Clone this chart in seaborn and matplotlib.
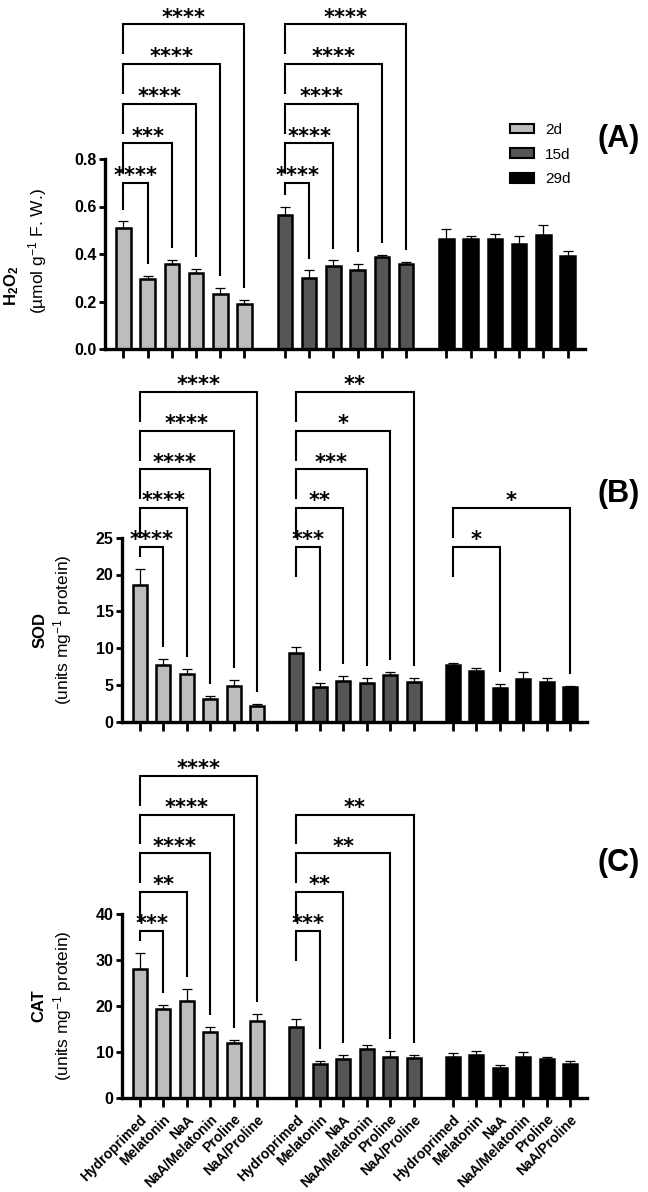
import numpy as np
import pandas as pd
import matplotlib
matplotlib.use("Agg")
import matplotlib.pyplot as plt
import seaborn as sns
from matplotlib.patches import Patch

sns.set_style("ticks", {"axes.edgecolor": "black", "xtick.color": "black",
                        "ytick.color": "black", "text.color": "black"})
plt.rcParams['font.family'] = ['Liberation Sans', 'DejaVu Sans']
plt.rcParams['mathtext.fontset'] = 'custom'
plt.rcParams['mathtext.rm'] = 'Liberation Sans'
plt.rcParams['mathtext.bf'] = 'Liberation Sans:bold'
plt.rcParams['mathtext.it'] = 'Liberation Sans:italic'

treatments = ['Hydroprimed', 'Melatonin', 'NaA', 'NaA/Melatonin', 'Proline', 'NaA/Proline']
days = ['2d', '15d', '29d']
day_colors = ['#bdbdbd', '#555555', '#000000']

# means and top of the error bar (mean + SD), one row per day
h2o2_mean = [[0.509, 0.295, 0.358, 0.320, 0.233, 0.190],
             [0.563, 0.299, 0.348, 0.334, 0.386, 0.358],
             [0.465, 0.465, 0.465, 0.443, 0.480, 0.390]]
h2o2_top = [[0.537, 0.306, 0.376, 0.337, 0.257, 0.205],
            [0.600, 0.331, 0.373, 0.358, 0.397, 0.365],
            [0.505, 0.477, 0.484, 0.474, 0.524, 0.414]]
sod_mean = [[18.6, 7.7, 6.45, 3.1, 4.9, 2.15],
            [9.4, 4.7, 5.5, 5.2, 6.3, 5.4],
            [7.7, 6.9, 4.55, 5.85, 5.4, 4.7]]
sod_top = [[20.8, 8.5, 7.2, 3.55, 5.7, 2.4],
           [10.2, 5.2, 6.2, 5.9, 6.7, 5.9],
           [7.95, 7.3, 5.1, 6.7, 5.9, 4.9]]
cat_mean = [[28.0, 19.3, 21.1, 14.35, 12.0, 16.7],
            [15.4, 7.25, 8.5, 10.6, 8.85, 8.7],
            [8.9, 9.3, 6.4, 8.8, 8.4, 7.3]]
cat_top = [[31.5, 20.2, 23.8, 15.4, 12.6, 18.2],
           [17.1, 8.1, 9.4, 11.5, 10.1, 9.3],
           [9.8, 10.1, 7.1, 10.0, 8.95, 8.1]]

# comparisons vs Hydroprimed: (day, treatment, stars), stacked bottom-up per day
h2o2_sig = [(0, 1, '****'), (0, 2, '***'), (0, 3, '****'), (0, 4, '****'), (0, 5, '****'),
            (1, 1, '****'), (1, 2, '****'), (1, 3, '****'), (1, 4, '****'), (1, 5, '****')]
sod_sig = [(0, 1, '****'), (0, 2, '****'), (0, 3, '****'), (0, 4, '****'), (0, 5, '****'),
           (1, 1, '***'), (1, 2, '**'), (1, 3, '***'), (1, 4, '*'), (1, 5, '**'),
           (2, 2, '*'), (2, 5, '*')]
cat_sig = [(0, 1, '***'), (0, 2, '**'), (0, 3, '****'), (0, 4, '****'), (0, 5, '****'),
           (1, 1, '***'), (1, 2, '**'), (1, 4, '**'), (1, 5, '**')]

GROUP_STEP = 6.67


def xpos(g, i):
    return g * GROUP_STEP + i


def make_df(mean, top):
    rows = []
    for g, d in enumerate(days):
        for i, t in enumerate(treatments):
            rows.append({'pos': xpos(g, i), 'day': d, 'treat': t,
                         'mean': mean[g][i], 'top': top[g][i]})
    return pd.DataFrame(rows)


fig = plt.figure(figsize=(6.48, 11.92), dpi=100)
W, H = 648.0, 1192.0

panels = [
    dict(mean=h2o2_mean, top=h2o2_top, sig=h2o2_sig, rect=(105, 349, 480, 190),
         ylim=0.8, yticks=[0, 0.2, 0.4, 0.6, 0.8], fmt='{:.1f}',
         base=0.699, step=0.167, gap=0.05, leg=0.126,
         t1=r'$\mathbf{H_2O_2}$', t2=r'(µmol g$^{-1}$ F. W.)',
         t1pos=(12, 286), t2pos=(38, 251), tag='(A)', tagy=139),
    dict(mean=sod_mean, top=sod_top, sig=sod_sig, rect=(122, 721.7, 465, 184),
         ylim=25, yticks=[0, 5, 10, 15, 20, 25], fmt='{:.0f}',
         base=23.8, step=5.25, gap=1.63, leg=4.1,
         t1='SOD', t2=r'(units mg$^{-1}$ protein)',
         t1pos=(40, 630), t2pos=(63, 630), tag='(B)', tagy=494),
    dict(mean=cat_mean, top=cat_top, sig=cat_sig, rect=(122, 1097.7, 465, 183.4),
         ylim=40, yticks=[0, 10, 20, 30, 40], fmt='{:.0f}',
         base=36.4, step=8.45, gap=2.6, leg=6.5,
         t1='CAT', t2=r'(units mg$^{-1}$ protein)',
         t1pos=(39, 1006), t2pos=(63, 1006), tag='(C)', tagy=863),
]

for k, p in enumerate(panels):
    left, bottom, width, height = p['rect']
    ax = fig.add_axes([left / W, 1 - bottom / H, width / W, height / H])
    df = make_df(p['mean'], p['top'])
    sns.barplot(data=df, x='pos', y='mean', hue='day', palette=day_colors,
                hue_order=days, native_scale=True, dodge=False, width=0.6,
                errorbar=None, edgecolor='black', linewidth=1.8, legend=False, ax=ax)
    ax.errorbar(df['pos'], df['mean'], yerr=[np.zeros(len(df)), df['top'] - df['mean']],
                fmt='none', ecolor='black', elinewidth=0.9, capsize=3.5, capthick=0.9,
                zorder=3)

    ax.set_xlim(-0.76, 2 * GROUP_STEP + 5 + 0.72)
    ax.set_ylim(0, p['ylim'])
    ax.set_yticks(p['yticks'])
    ax.set_yticklabels([p['fmt'].format(v) for v in p['yticks']], fontweight='bold')
    ax.set_xticks(df['pos'])
    if k == 2:
        ax.set_xticklabels(df['treat'], rotation=45, ha='right', va='top',
                           rotation_mode='anchor', fontweight='bold', fontsize=10)
    else:
        ax.set_xticklabels([])
    ax.set_xlabel('')
    ax.set_ylabel('')
    sns.despine(ax=ax)
    for s in ['left', 'bottom']:
        ax.spines[s].set_linewidth(2.4)
    ax.tick_params(axis='y', width=2.0, length=4.5, labelsize=11.5, pad=1.5)
    ax.tick_params(axis='x', width=2.0, length=6.5, pad=4)

    # significance brackets
    level = {}
    for g, j, stars in p['sig']:
        lv = level.get(g, 0)
        level[g] = lv + 1
        y = p['base'] + lv * p['step']
        x0, x1 = xpos(g, 0), xpos(g, j)
        yl = max(y - p['leg'], p['top'][g][0] + p['gap'])
        yr = p['top'][g][j] + p['gap']
        ax.plot([x0, x0, x1, x1], [yl, y, y, yr], color='black', lw=1.5,
                clip_on=False, solid_capstyle='butt', solid_joinstyle='miter')
        ax.annotate(stars, xy=((x0 + x1) / 2, y), xytext=(0, 0.5),
                    textcoords='offset points', ha='center', va='baseline',
                    fontsize=15, fontweight='bold', family='DejaVu Sans',
                    annotation_clip=False)

    fig.text(p['t1pos'][0] / W, 1 - p['t1pos'][1] / H, p['t1'], rotation=90,
             ha='center', va='center', fontsize=12, fontweight='bold')
    fig.text(p['t2pos'][0] / W, 1 - p['t2pos'][1] / H, p['t2'], rotation=90,
             ha='center', va='center', fontsize=12.5)
    fig.text(619 / W, 1 - p['tagy'] / H, p['tag'], ha='center', va='center',
             fontsize=22, fontweight='bold')

handles = [Patch(facecolor=c, edgecolor='black', linewidth=1.5, label=d)
           for c, d in zip(day_colors, days)]
fig.legend(handles=handles, loc='upper left', bbox_to_anchor=(510 / W, 1 - 123 / H),
           frameon=False, fontsize=11, handlelength=1.6, handleheight=0.6,
           handletextpad=0.7, labelspacing=0.7, borderpad=0, borderaxespad=0)

fig.savefig('out.png', dpi=100)
